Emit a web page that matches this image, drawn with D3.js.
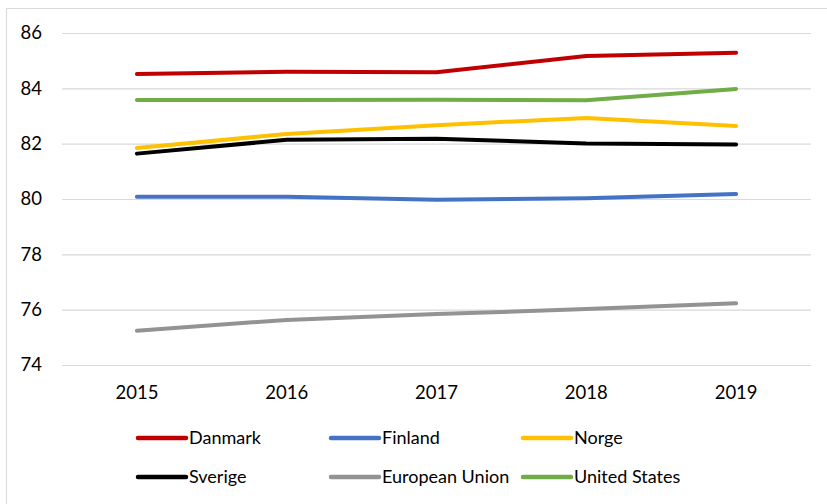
<!DOCTYPE html>
<html>
<head>
<meta charset="utf-8">
<script src="https://cdn.jsdelivr.net/npm/d3@7"></script>
<style>
  body { margin: 0; background: #fff; }
  text { font-family: Lato, "Open Sans", sans-serif; fill: #000; }
</style>
</head>
<body>
<div id="chart"></div>
<script>
// data
const years = ["2015", "2016", "2017", "2018", "2019"];
const danmark = [84.52, 84.60, 84.58, 85.17, 85.29];
const finland = [80.08, 80.08, 79.97, 80.03, 80.18];
const norge = [81.84, 82.35, 82.67, 82.93, 82.64];
const sverige = [81.64, 82.14, 82.18, 82.01, 81.97];
const eu = [75.24, 75.63, 75.84, 76.02, 76.23];
const us = [83.58, 83.58, 83.59, 83.57, 83.98];
const yTicks = [74, 76, 78, 80, 82, 84, 86];

const series = [
  { name: "Danmark", values: danmark, color: "#c00000" },
  { name: "Finland", values: finland, color: "#4472c4" },
  { name: "Norge", values: norge, color: "#ffc000" },
  { name: "Sverige", values: sverige, color: "#000000" },
  { name: "European Union", values: eu, color: "#939393" },
  { name: "United States", values: us, color: "#70ad47" }
];

const width = 827;
const height = 504;
const margin = { top: 33, right: 16, bottom: 139, left: 62 };

const svg = d3.select("#chart")
  .append("svg")
  .attr("width", width)
  .attr("height", height);

// chart frame
svg.append("rect")
  .attr("x", 6.5).attr("y", 8.5)
  .attr("width", 840).attr("height", 520)
  .attr("fill", "none")
  .attr("stroke", "#d9d9d9");

const x = d3.scaleBand()
  .domain(years)
  .range([margin.left, width - margin.right]);

const y = d3.scaleLinear()
  .domain([74, 86])
  .range([height - margin.bottom, margin.top]);

// gridlines
svg.append("g")
  .selectAll("line")
  .data(yTicks)
  .join("line")
  .attr("x1", margin.left)
  .attr("x2", width - margin.right)
  .attr("y1", d => y(d) + 0.5)
  .attr("y2", d => y(d) + 0.5)
  .attr("stroke", "#d9d9d9")
  .attr("stroke-width", 1.2);

// y axis labels
const yAxis = svg.append("g")
  .attr("transform", `translate(${margin.left},0)`)
  .call(d3.axisLeft(y).tickValues(yTicks).tickSize(0).tickPadding(20));
yAxis.select(".domain").remove();
yAxis.selectAll("text")
  .attr("font-size", "18.5px")
  .attr("fill", "#000");

// x axis labels
const xAxis = svg.append("g")
  .attr("transform", `translate(0,${y(74)})`)
  .call(d3.axisBottom(x).tickSize(0).tickPadding(21));
xAxis.select(".domain").remove();
xAxis.selectAll("text")
  .attr("font-size", "18.5px")
  .attr("fill", "#000");

const line = d3.line()
  .x((d, i) => x(years[i]) + x.bandwidth() / 2)
  .y(d => y(d));

svg.append("g")
  .selectAll("path")
  .data(series)
  .join("path")
  .attr("d", d => line(d.values))
  .attr("fill", "none")
  .attr("stroke", d => d.color)
  .attr("stroke-width", 4)
  .attr("stroke-linecap", "round")
  .attr("stroke-linejoin", "round");

// legend, two rows of three
const legendX = [138, 331, 523];
const legendY = [438, 477];
const legend = svg.append("g")
  .selectAll("g")
  .data(series)
  .join("g")
  .attr("transform", (d, i) => `translate(${legendX[i % 3]},${legendY[Math.floor(i / 3)]})`);

legend.append("line")
  .attr("x1", 0).attr("x2", 48)
  .attr("stroke", d => d.color)
  .attr("stroke-width", 4.5)
  .attr("stroke-linecap", "round");

legend.append("text")
  .attr("x", 51)
  .attr("dy", "0.36em")
  .attr("font-size", "18px")
  .text(d => d.name);
</script>
</body>
</html>
